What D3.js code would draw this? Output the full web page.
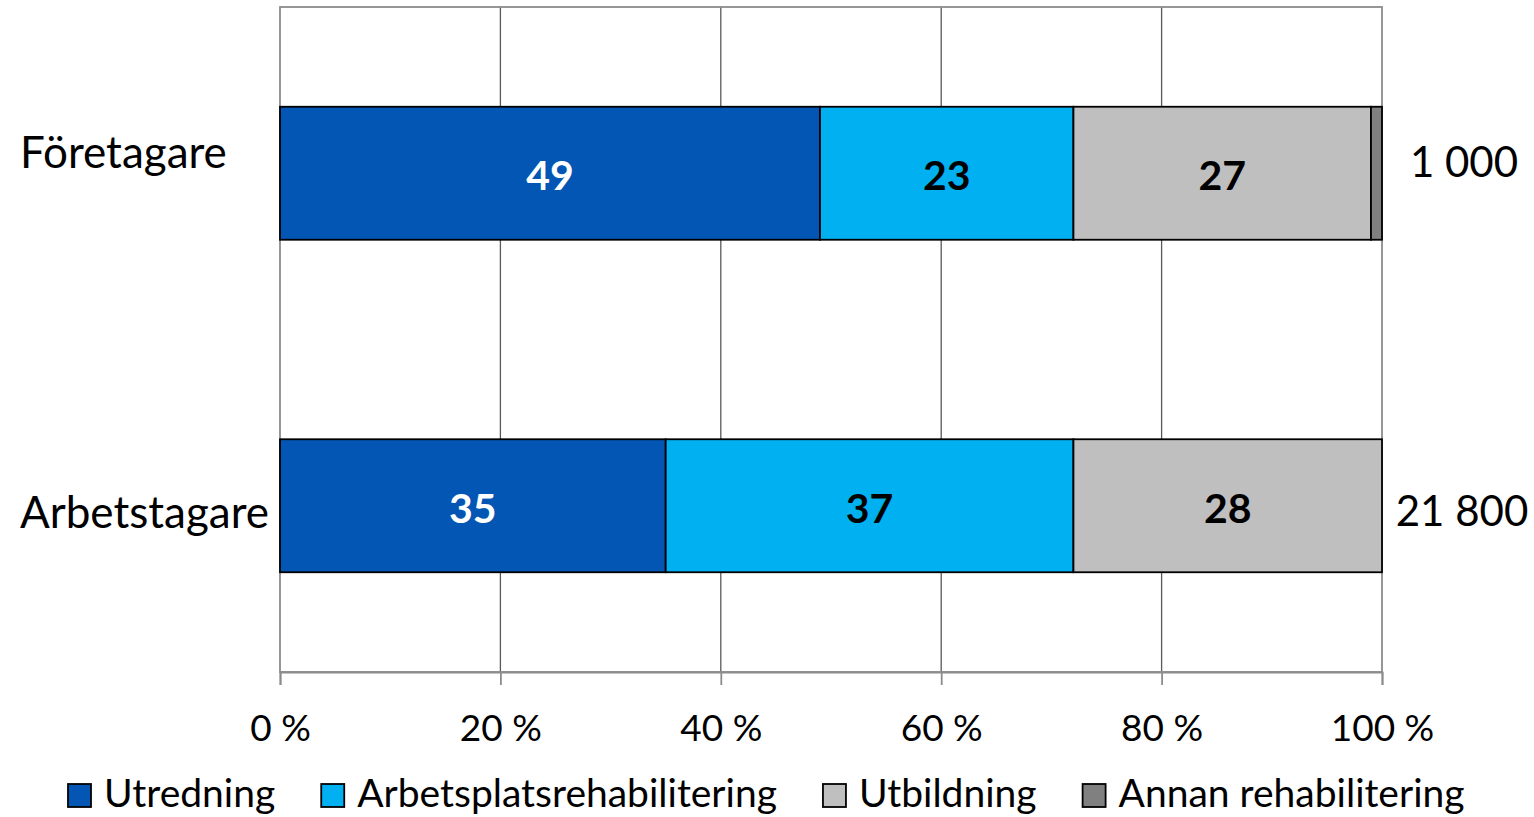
<!DOCTYPE html>
<html><head><meta charset="utf-8">
<script src="https://cdn.jsdelivr.net/npm/d3@7"></script>
<style>body{margin:0;background:#fff;} svg{display:block;} text{font-family:Lato, "Open Sans", sans-serif;}</style>
</head><body>
<svg id="c" width="1534" height="817"></svg>
<script>
const categories = ["Företagare", "Arbetstagare"];
const seriesNames = ["Utredning", "Arbetsplatsrehabilitering", "Utbildning", "Annan rehabilitering"];
const utredning = [49, 35];
const arbetsplats = [23, 37];
const utbildning = [27, 28];
const annan = [1, 0];
const totals = ["1 000", "21 800"];
const tickValues = [0, 20, 40, 60, 80, 100];
const colors = ["#0456b5", "#00b0f0", "#bfbfbf", "#808080"];
const labelColors = ["#fff", "#000", "#000", "#000"];

const seriesVals = [utredning, arbetsplats, utbildning, annan];
const rows = categories.map((c, i) => {
  const o = {cat: c};
  seriesNames.forEach((s, j) => o[s] = seriesVals[j][i]);
  return o;
});
const stack = d3.stack().keys(seriesNames)(rows);

const svg = d3.select("#c");
const L = 280, R = 1382, T = 7, B = 672;
const x = d3.scaleLinear().domain([0, 100]).range([L, R]);
const y = d3.scaleBand().domain(categories).range([T, B]).paddingInner(0.6).paddingOuter(0.3);

// grid
svg.append("g").selectAll("line").data(tickValues.slice(1, -1)).join("line")
  .attr("x1", d => x(d)).attr("x2", d => x(d)).attr("y1", T).attr("y2", B)
  .attr("stroke", "#595959").attr("stroke-width", 1.3);
// plot border
svg.append("rect").attr("x", L).attr("y", T).attr("width", R - L).attr("height", B - T)
  .attr("fill", "none").attr("stroke", "#8c8c8c").attr("stroke-width", 1.8);

// axis
const ax = svg.append("g").attr("transform", `translate(0,${B})`)
  .call(d3.axisBottom(x).tickValues(tickValues).tickFormat(d => d + " %").tickSize(13).tickPadding(30));
ax.select(".domain").attr("stroke", "#8c8c8c").attr("stroke-width", 1.8);
ax.selectAll(".tick line").attr("stroke", "#8c8c8c").attr("stroke-width", 1.8);
ax.selectAll(".tick text").attr("font-size", 37).attr("font-family", "Lato").attr("fill", "#000");

// bars
stack.forEach((layer, j) => {
  svg.append("g").selectAll("rect").data(layer.filter(d => d[1] > d[0])).join("rect")
    .attr("x", d => x(d[0])).attr("width", d => x(d[1]) - x(d[0]))
    .attr("y", d => y(d.data.cat)).attr("height", y.bandwidth())
    .attr("fill", colors[j]).attr("stroke", "#000").attr("stroke-width", 1.8);
  svg.append("g").selectAll("text").data(layer.filter(d => d[1] - d[0] >= 5)).join("text")
    .attr("x", d => x((d[0] + d[1]) / 2)).attr("y", d => y(d.data.cat) + y.bandwidth() / 2 + 17)
    .attr("text-anchor", "middle").attr("font-size", 41).attr("font-weight", "bold")
    .attr("fill", labelColors[j]).text(d => d[1] - d[0]);
});

// category labels
const catOffsets = [-5, 22];
svg.append("g").selectAll("text").data(categories).join("text")
  .attr("x", 20).attr("y", (d, i) => y(d) + y.bandwidth() / 2 + catOffsets[i])
  .attr("font-size", 44).attr("fill", "#000").text(d => d);

// totals
const totOffsets = [4, 20];
svg.append("g").selectAll("text").data(totals).join("text")
  .attr("x", (d, i) => i === 0 ? 1464 : 1462).attr("y", (d, i) => y(categories[i]) + y.bandwidth() / 2 + totOffsets[i])
  .attr("text-anchor", "middle").attr("font-size", 42).attr("fill", "#000").text(d => d);

// legend
const lg = svg.append("g").attr("transform", "translate(0,795)");
let cx = 68;
seriesNames.forEach((s, j) => {
  lg.append("rect").attr("x", cx).attr("y", -11).attr("width", 23).attr("height", 23)
    .attr("fill", colors[j]).attr("stroke", "#000").attr("stroke-width", 1.8);
  const t = lg.append("text").attr("x", cx + 36).attr("y", 12).attr("font-size", 39).attr("fill", "#000").text(s);
  cx += 36 + t.node().getComputedTextLength() + 46;
});
</script>
</body></html>
